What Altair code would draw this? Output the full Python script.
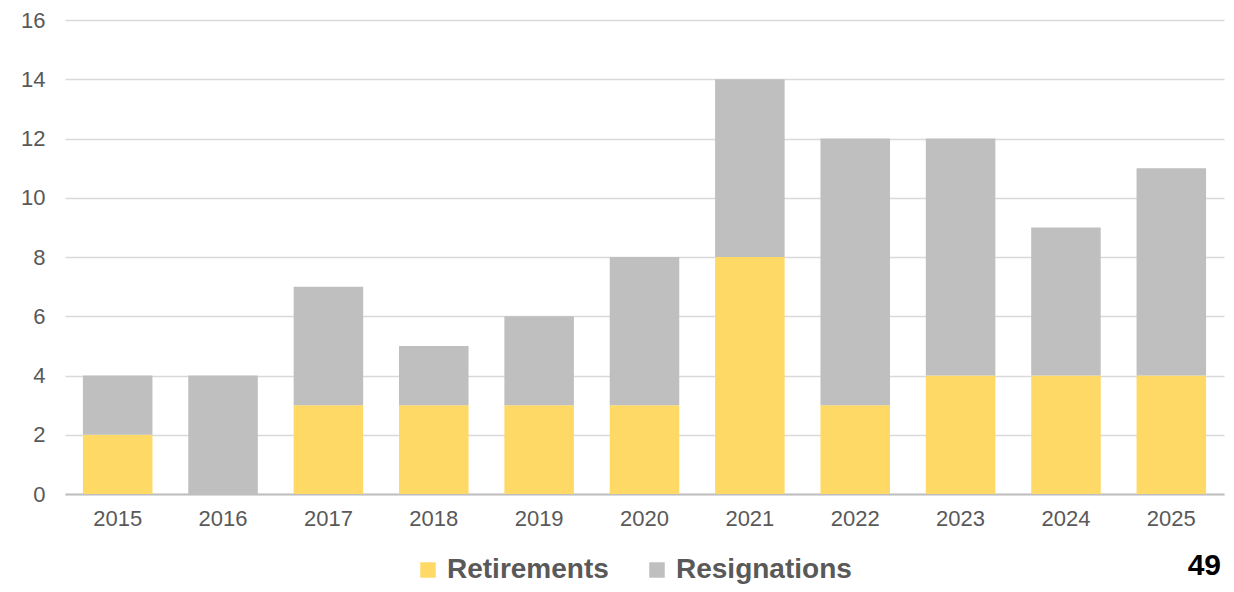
import altair as alt
import pandas as pd

years = ["2015", "2016", "2017", "2018", "2019", "2020", "2021", "2022", "2023", "2024", "2025"]
retirements = [2, 0, 3, 3, 3, 3, 8, 3, 4, 4, 4]
resignations = [2, 4, 4, 2, 3, 5, 6, 9, 8, 5, 7]
series = ["Retirements", "Resignations"]
colors = ["#FFD966", "#BFBFBF"]
page_number = "49"

rows = []
for y, r, s in zip(years, retirements, resignations):
    rows.append({"year": y, "type": series[0], "value": r, "ord": 0})
    rows.append({"year": y, "type": series[1], "value": s, "ord": 1})
df = pd.DataFrame(rows)

W, H = 1159, 474

bars = alt.Chart(df).mark_bar().encode(
    x=alt.X("year:N", sort=years, title=None,
            scale=alt.Scale(paddingInner=0.34, paddingOuter=0.17),
            axis=alt.Axis(labelAngle=0, labelFontSize=22, labelColor="#595959",
                          labelFont="Liberation Sans", labelPadding=14,
                          ticks=False, domainColor="#BFBFBF", domainWidth=2,
                          grid=False)),
    y=alt.Y("value:Q", stack="zero", title=None,
            scale=alt.Scale(domain=[0, 16], nice=False),
            axis=alt.Axis(values=list(range(0, 17, 2)), labelFontSize=22,
                          labelColor="#595959", labelFont="Liberation Sans",
                          labelPadding=20, ticks=False, domain=False,
                          gridColor="#D9D9D9", gridWidth=1.5)),
    color=alt.Color("type:N", sort=series,
                    scale=alt.Scale(domain=series, range=colors),
                    legend=alt.Legend(title=None, orient="none", direction="horizontal",
                                      legendX=349, legendY=536,
                                      symbolType="square", symbolSize=240,
                                      symbolStrokeWidth=0,
                                      labelFontSize=28, labelFontWeight="bold",
                                      labelColor="#595959", labelFont="Liberation Sans",
                                      columnPadding=34, labelOffset=5, labelLimit=300)),
    order=alt.Order("ord:Q", sort="ascending"),
)

pn = alt.Chart(pd.DataFrame({"t": [page_number]})).mark_text(
    align="right", baseline="alphabetic", fontSize=30, fontWeight="bold",
    font="Liberation Sans", color="#000000"
).encode(text="t:N", x=alt.value(1156), y=alt.value(555))

chart = alt.layer(bars, pn).properties(
    width=W, height=H,
    autosize=alt.AutoSizeParams(type="none"),
    padding={"left": 57, "top": 12, "right": 2, "bottom": 90},
).configure_view(stroke=None)

chart.save("out.html", embed_options={"renderer": "svg", "actions": False})
